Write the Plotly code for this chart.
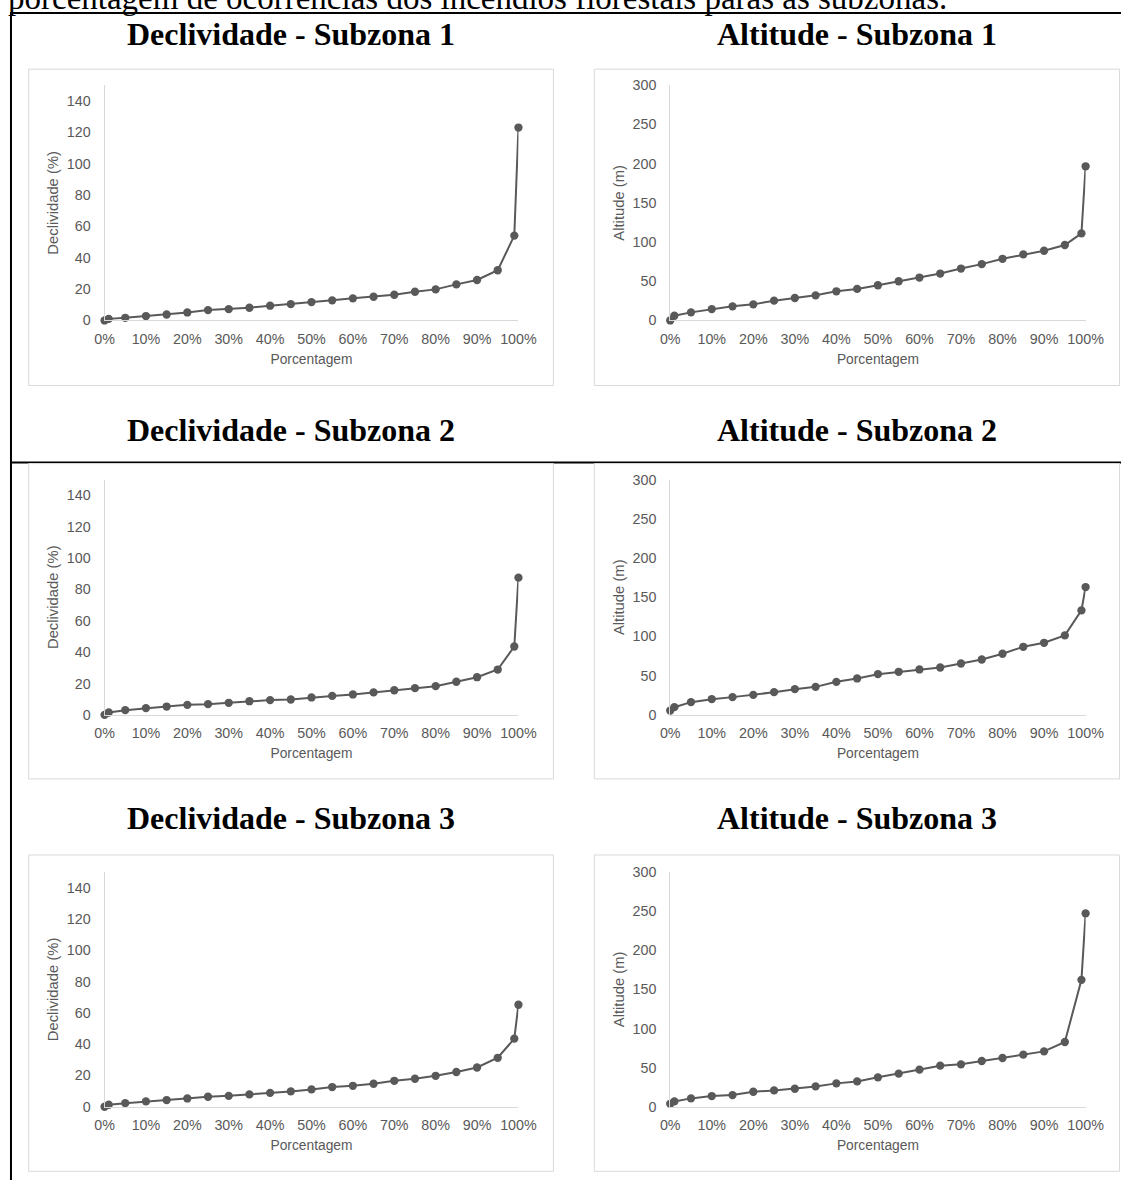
import plotly.graph_objects as go

# Figure size in CSS pixels; the page is photographed with an 8px body margin and a
# slight rescale, so the reference's pixel positions are converted with SX/SY/OFF below.
W, H = 1140, 1188
SX, SY, OFF = 0.976, 0.9855, 8

# ---------------- data ----------------
porcentagem = [0, 1, 5, 10, 15, 20, 25, 30, 35, 40, 45, 50, 55, 60, 65, 70, 75, 80, 85, 90, 95, 99, 100]

declividade_s1 = [0, 1.0, 1.7, 2.8, 3.8, 5.1, 6.6, 7.2, 8.1, 9.4, 10.4, 11.7, 12.8, 14.1, 15.1, 16.4,
                  18.3, 19.8, 23.0, 25.8, 32.0, 54.1, 123.0]
altitude_s1 = [0, 6.0, 10.3, 14.5, 18.0, 20.5, 25.2, 28.6, 32.0, 37.2, 40.2, 44.9, 50.0, 54.7, 59.8, 66.2,
               71.8, 78.6, 84.2, 88.9, 96.2, 111.0, 196.6]
declividade_s2 = [0, 1.5, 3.0, 4.3, 5.3, 6.4, 6.8, 7.7, 8.7, 9.4, 9.8, 11.1, 12.1, 13.0, 14.3, 15.7,
                  17.0, 18.3, 21.1, 24.0, 28.9, 43.6, 87.5]
altitude_s2 = [5.5, 9.8, 16.2, 20.0, 22.6, 25.5, 28.9, 32.8, 35.7, 42.1, 46.4, 51.9, 54.9, 57.9, 60.4, 65.5,
               70.6, 77.9, 86.8, 91.9, 101.3, 133.2, 163.0]
declividade_s3 = [0, 1.3, 2.3, 3.4, 4.3, 5.3, 6.4, 7.0, 7.9, 8.9, 9.8, 11.1, 12.6, 13.4, 14.7, 16.6,
                  17.9, 19.8, 22.2, 25.1, 31.3, 43.5, 65.2]
altitude_s3 = [3.8, 6.8, 10.7, 13.7, 14.9, 19.2, 20.9, 23.0, 26.0, 29.9, 32.4, 37.6, 42.3, 47.4, 52.5, 54.2,
               58.5, 62.3, 66.6, 70.8, 82.8, 162.2, 247.1]

titulos = ["Declividade - Subzona 1", "Altitude - Subzona 1",
           "Declividade - Subzona 2", "Altitude - Subzona 2",
           "Declividade - Subzona 3", "Altitude - Subzona 3"]
y_titulos = ["Declividade (%)", "Altitude (m)"] * 3
x_titulo = "Porcentagem"
texto_topo = "porcentagem de ocorrências dos incêndios florestais paras as subzonas."
series = [declividade_s1, altitude_s1, declividade_s2, altitude_s2, declividade_s3, altitude_s3]
y_max = [150, 300] * 3

# ---------------- layout geometry (target picture pixels) ----------------
col_plot_x = [(102.5, 517), (669, 1085)]
col_box_x = [(26.5, 552), (593, 1119)]
col_title_x = [289, 856]
row_plot_y = [(85, 320), (479, 714), (871, 1105.5)]
row_box_y = [(69, 385), (463, 778), (854, 1170)]
row_title_y = [34, 429, 817]

def px(x):
    return (x / SX - OFF) / W

def py(y):
    return 1 - (y / SY - OFF) / H

SERIES_COLOR = "#595959"
AXIS_COLOR = "#d9d9d9"
TEXT_COLOR = "#595959"

fig = go.Figure()
layout = dict(
    width=W, height=H,
    margin=dict(l=0, r=0, t=0, b=0),
    paper_bgcolor="white",
    plot_bgcolor="rgba(0,0,0,0)",
    showlegend=False,
    font=dict(family="Liberation Sans, Arial", color=TEXT_COLOR, size=14),
)

shapes = []
# table lines
shapes.append(dict(type="line", xref="paper", yref="paper", x0=0, x1=1.0, y0=py(13), y1=py(13),
                   line=dict(color="black", width=2), layer="below"))
shapes.append(dict(type="line", xref="paper", yref="paper", x0=0, x1=1.0, y0=py(462), y1=py(462),
                   line=dict(color="black", width=2), layer="below"))
shapes.append(dict(type="line", xref="paper", yref="paper", x0=1.0 / W, x1=1.0 / W, y0=py(12), y1=0,
                   line=dict(color="black", width=2), layer="below"))

annotations = []
annotations.append(dict(text=texto_topo, xref="paper", yref="paper", x=px(4), y=py(18),
                        xanchor="left", yanchor="bottom", showarrow=False,
                        font=dict(family="Liberation Serif, Times New Roman", size=33, color="black")))

for i in range(6):
    r, c = divmod(i, 2)
    idx = "" if i == 0 else str(i + 1)
    xa = "x" + idx
    ya = "y" + idx
    bx0, bx1 = col_box_x[c]
    by0, by1 = row_box_y[r]
    shapes.append(dict(type="rect", xref="paper", yref="paper",
                       x0=px(bx0), x1=px(bx1), y0=py(by1), y1=py(by0),
                       line=dict(color=AXIS_COLOR, width=1), fillcolor="white", layer="below"))
    annotations.append(dict(text="<b>%s</b>" % titulos[i], xref="paper", yref="paper",
                            x=px(col_title_x[c]), y=py(row_title_y[r]),
                            xanchor="center", yanchor="middle", showarrow=False,
                            font=dict(family="Liberation Serif, Times New Roman", size=32, color="black")))
    fig.add_trace(go.Scatter(
        x=porcentagem, y=series[i], mode="lines+markers",
        line=dict(color=SERIES_COLOR, width=2),
        marker=dict(color=SERIES_COLOR, size=8.3),
        cliponaxis=False, xaxis=xa, yaxis=ya))
    x0, x1 = col_plot_x[c]
    yt, yb = row_plot_y[r]
    layout["xaxis" + idx] = dict(
        domain=[px(x0), px(x1)], anchor=ya, range=[0, 100], dtick=10, tick0=0,
        ticksuffix="%", showgrid=False, zeroline=False, showline=True,
        linecolor=AXIS_COLOR, linewidth=1, ticks="", ticklabelstandoff=5,
        tickfont=dict(size=14.3, color=TEXT_COLOR),
        title=dict(text=x_titulo, font=dict(size=13.8, color=TEXT_COLOR), standoff=8),
        fixedrange=True,
    )
    layout["yaxis" + idx] = dict(
        domain=[py(yb), py(yt)], anchor=xa, range=[0, y_max[i]],
        dtick=20 if y_max[i] == 150 else 50, tick0=0,
        showgrid=False, zeroline=False, showline=True,
        linecolor=AXIS_COLOR, linewidth=1, ticks="", ticklabelstandoff=10,
        tickfont=dict(size=14.3, color=TEXT_COLOR),
        title=dict(text=y_titulos[i], font=dict(size=14.8, color=TEXT_COLOR), standoff=4),
        fixedrange=True,
    )

layout["shapes"] = shapes
layout["annotations"] = annotations
fig.update_layout(**layout)

fig.write_html("out.html", config={"displayModeBar": False})
